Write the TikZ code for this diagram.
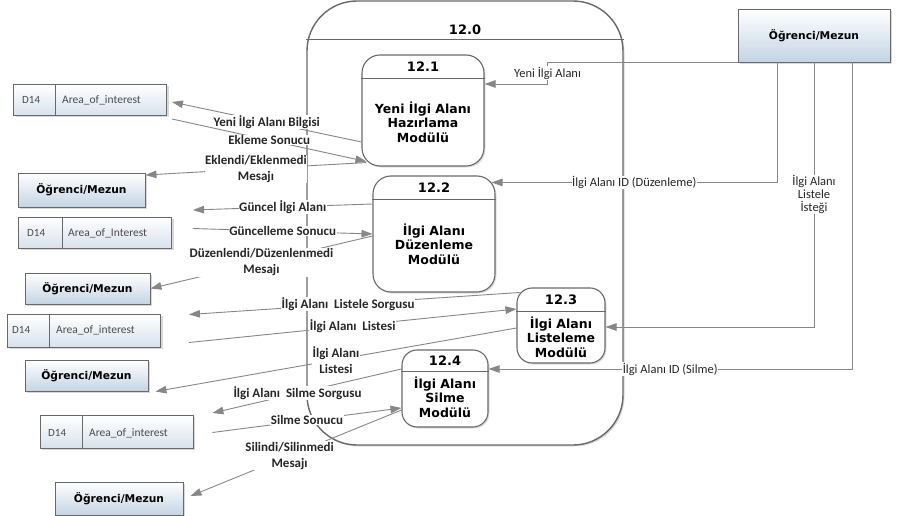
\documentclass[tikz,border=0pt]{standalone}
\usepackage{fontspec}
\setmainfont{Carlito}
\newfontfamily\verdfont{DejaVu Sans}
\usepackage{tikz}
\usetikzlibrary{positioning,arrows.meta,shadows}
\usepackage{xcolor}
\definecolor{flowgray}{RGB}{135,135,135}
\definecolor{edgegray}{RGB}{105,105,105}
\definecolor{entblue}{RGB}{196,212,228}
\definecolor{storeblue}{RGB}{216,226,237}
\definecolor{storetext}{RGB}{75,75,75}

\begin{document}
\begin{tikzpicture}[x=1pt,y=-1pt,
  outer/.style={rectangle,rounded corners=50pt,draw=edgegray,line width=1.4pt,fill=white,
    drop shadow={shadow xshift=1.5pt,shadow yshift=-1.5pt,opacity=0.3}},
  proc/.style={rectangle,rounded corners=18pt,draw=edgegray,line width=1.1pt,fill=white,
    drop shadow={shadow xshift=1.5pt,shadow yshift=-1.5pt,opacity=0.25}},
  sep/.style={draw=edgegray,line width=0.9pt},
  pnum/.style={font=\verdfont\bfseries\fontsize{13}{14}\selectfont},
  ptxt/.style={font=\verdfont\bfseries\fontsize{12.5}{14.5}\selectfont,align=center},
  ent/.style={rectangle,draw=edgegray,line width=0.9pt,top color=white,bottom color=entblue,
    font=\verdfont\bfseries\fontsize{10.7}{12}\selectfont,inner sep=0pt,
    drop shadow={shadow xshift=2pt,shadow yshift=-2pt,opacity=0.3}},
  store/.style={rectangle,draw=edgegray,line width=0.9pt,top color=white,bottom color=storeblue,
    minimum width=153pt,minimum height=31pt,inner sep=0pt,
    drop shadow={shadow xshift=2pt,shadow yshift=-2pt,opacity=0.3}},
  storeid/.style={anchor=west,inner sep=0pt,font=\fontsize{11}{12}\selectfont,text=storetext},
  storetxt/.style={anchor=west,inner sep=0pt,font=\fontsize{11.5}{12}\selectfont,text=storetext},
  flow/.style={draw=flowgray,line width=0.9pt,-{Triangle[length=11pt,width=7.5pt]}},
  lbl/.style={fill=white,inner sep=0.6pt,align=center,text=black!85,
    font=\bfseries\fontsize{13}{16}\selectfont},
  rlbl/.style={fill=white,inner sep=0.6pt,align=center,text=black!85,
    font=\fontsize{12.5}{13}\selectfont}
]
\useasboundingbox (0,0) rectangle (899,516);
\node[outer,minimum width=316pt,minimum height=444pt] (p0) at (465,223) {};
\draw[sep] ([yshift=-39pt]p0.north west) -- ([yshift=-39pt]p0.north east);
\node[pnum] (p0n) at (465,30) {12.0};

\node[proc,minimum width=122pt,minimum height=111pt] (p1) at (423,110.5) {};
\draw[sep] ([yshift=-24pt]p1.north west) -- ([yshift=-24pt]p1.north east);
\node[pnum] (p1n) at (423,67) {12.1};
\node[ptxt] (p1t) at (423,122) {Yeni İlgi Alanı\\Hazırlama\\Modülü};

\node[proc,minimum width=122pt,minimum height=116pt] (p2) at (434,234) {};
\draw[sep] ([yshift=-24pt]p2.north west) -- ([yshift=-24pt]p2.north east);
\node[pnum] (p2n) at (434,188) {12.2};
\node[ptxt] (p2t) at (434,244) {İlgi Alanı\\Düzenleme\\Modülü};

\node[proc,rounded corners=15pt,minimum width=88pt,minimum height=75pt] (p3) at (561,325.5) {};
\draw[sep] ([yshift=-24pt]p3.north west) -- ([yshift=-24pt]p3.north east);
\node[pnum] (p3n) at (561,300) {12.3};
\node[ptxt] (p3t) at (561,337) {İlgi Alanı\\Listeleme\\Modülü};

\node[proc,rounded corners=15pt,minimum width=86pt,minimum height=77pt] (p4) at (445,388.5) {};
\draw[sep] ([yshift=-22pt]p4.north west) -- ([yshift=-22pt]p4.north east);
\node[pnum] (p4n) at (445,361) {12.4};
\node[ptxt] (p4t) at (445,397) {İlgi Alanı\\Silme\\Modülü};

\node[ent,minimum width=152pt,minimum height=53pt] (eR) at (814,35.5) {Öğrenci/Mezun};
\node[ent,minimum width=127pt,minimum height=34pt] (e1) at (81.5,190) {Öğrenci/Mezun};
\node[ent,minimum width=125pt,minimum height=31pt] (e2) at (87.5,288.5) {Öğrenci/Mezun};
\node[ent,minimum width=123pt,minimum height=31pt] (e3) at (86.5,375.5) {Öğrenci/Mezun};
\node[ent,minimum width=128pt,minimum height=33pt] (e4) at (119,498.5) {Öğrenci/Mezun};

\node[store] (ds1) at (90,100) {};
\draw[sep] ([xshift=42pt]ds1.north west) -- ([xshift=42pt]ds1.south west);
\node[storeid] (ds1id) at (22,100) {D14};
\node[storetxt] (ds1t) at (62,100) {Area\_of\_interest};

\node[store] (ds2) at (95,232.5) {};
\draw[sep] ([xshift=44pt]ds2.north west) -- ([xshift=44pt]ds2.south west);
\node[storeid] (ds2id) at (27,233) {D14};
\node[storetxt] (ds2t) at (68,233) {Area\_of\_Interest};

\node[store,minimum height=33pt] (ds3) at (84,330.5) {};
\draw[sep] ([xshift=42pt]ds3.north west) -- ([xshift=42pt]ds3.south west);
\node[storeid] (ds3id) at (12,330) {D14};
\node[storetxt] (ds3t) at (56,330) {Area\_of\_interest};

\node[store,minimum height=33pt] (ds4) at (116.5,431.5) {};
\draw[sep] ([xshift=43pt]ds4.north west) -- ([xshift=43pt]ds4.south west);
\node[storeid] (ds4id) at (48,433) {D14};
\node[storetxt] (ds4t) at (89,433) {Area\_of\_interest};

\draw[flow] (eR.south west) -- ++(-190,0) |- node[rlbl,pos=0.25]{Yeni İlgi Alanı} ([yshift=26.5pt]p1.east);
\draw[flow] ([xshift=-37pt]eR.south) |- node[rlbl,pos=0.75]{İlgi Alanı ID (Düzenleme)} ([shift={(-4,7)}]p2.north east);
\draw[flow] (eR.south) |- node[rlbl,pos=0.25]{İlgi Alanı\\Listele\\İsteği} ([yshift=-1.5pt]p3.east);
\draw[flow] ([xshift=38pt]eR.south) |- node[rlbl,pos=0.75]{İlgi Alanı ID (Silme)} ([yshift=19.5pt]p4.east);

\draw[flow] ([shift={(0,31.5)}]p1.west) -- node[lbl]{Yeni İlgi Alanı Bilgisi} ([shift={(5,2)}]ds1.east);
\draw[flow] ([shift={(5,19)}]ds1.east) -- node[lbl]{Ekleme Sonucu} ([shift={(5,-5)}]p1.south west);
\draw[flow] ([shift={(5,-4)}]p1.south west) -- node[lbl]{Eklendi/Eklenmedi\\Mesajı} ([shift={(0,-15)}]e1.east);

\draw[flow] ([shift={(0,-30)}]p2.west) -- node[lbl]{Güncel İlgi Alanı} ([shift={(21,-22.5)}]ds2.east);
\draw[flow] ([shift={(21,-4)}]ds2.east) -- node[lbl]{Güncelleme Sonucu} (p2.west);
\draw[flow] ([shift={(0,2)}]p2.west) -- node[lbl]{Düzenlendi/Düzenlenmedi\\Mesajı} (e2.east);

\draw[flow] ([shift={(4,5)}]p3.north west) -- node[lbl,pos=0.52]{İlgi Alanı\ \ Listele Sorgusu} ([shift={(28,-16)}]ds3.east);
\draw[flow] ([shift={(28,12)}]ds3.east) -- node[lbl]{İlgi Alanı\ \ Listesi} ([shift={(0,-16.5)}]p3.west);
\draw[flow] ([shift={(0,2.5)}]p3.west) -- node[lbl]{İlgi Alanı\\Listesi} ([shift={(7,16)}]e3.east);

\draw[flow] ([shift={(0,-19.5)}]p4.west) -- node[lbl,pos=0.55]{İlgi Alanı\ \ Silme Sorgusu} ([shift={(19,-18.5)}]ds4.east);
\draw[flow] ([shift={(19,1)}]ds4.east) -- node[lbl]{Silme Sonucu} ([shift={(0,19.5)}]p4.west);
\draw[flow] ([shift={(0,21.5)}]p4.west) -- node[lbl,pos=0.53]{Silindi/Silinmedi\\Mesajı} ([shift={(7,-2.5)}]e4.east);
\end{tikzpicture}
\end{document}
